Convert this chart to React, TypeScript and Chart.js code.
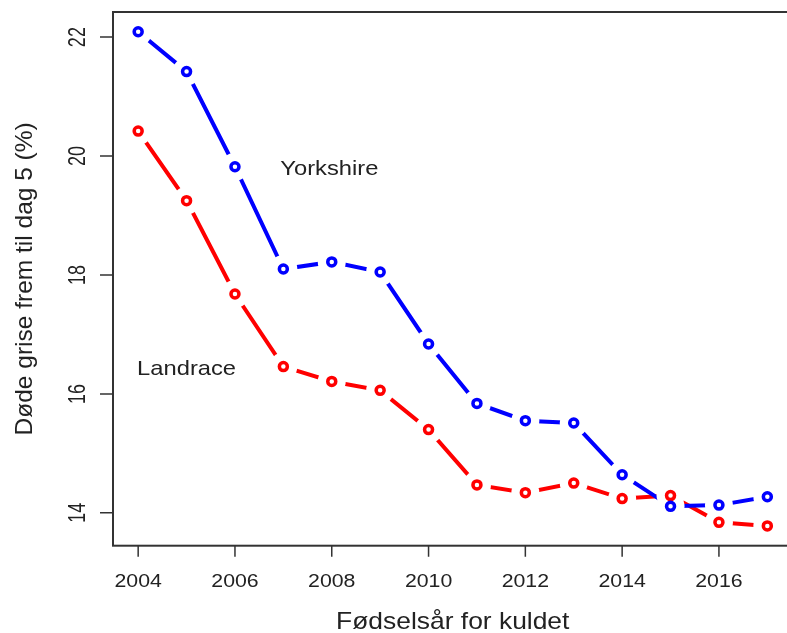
import React, { useEffect, useRef } from "react";
import { Chart, registerables } from "chart.js";

Chart.register(...registerables);

const years = [2004, 2005, 2006, 2007, 2008, 2009, 2010, 2011, 2012, 2013, 2014, 2015, 2016, 2017];
const yorkshire = [22.09, 21.42, 19.82, 18.1, 18.22, 18.05, 16.84, 15.84, 15.55, 15.51, 14.64, 14.11, 14.13, 14.27];
const landrace = [20.42, 19.25, 17.68, 16.46, 16.21, 16.06, 15.4, 14.47, 14.34, 14.5, 14.24, 14.29, 13.84, 13.78];
const xTicks = [2004, 2006, 2008, 2010, 2012, 2014, 2016];
const yTicks = [14, 16, 18, 20, 22];
const seriesLabels = ["Yorkshire", "Landrace"];
const labelX = [2007.95, 2005.0];
const labelY = [19.68, 16.31];
const xTitle = "Fødselsår for kuldet";
const yTitle = "Døde grise frem til dag 5 (%)";

const FONT = '"Liberation Sans", Arial, sans-serif';
const TEXT = "#222";
const AXIS = "#333";
const GAP = 14;

function drawText(
  ctx: CanvasRenderingContext2D,
  text: string,
  x: number,
  y: number,
  size: number,
  sx: number,
  rot: number,
  align: CanvasTextAlign,
  baseline: CanvasTextBaseline
) {
  ctx.save();
  ctx.translate(x, y);
  ctx.scale(sx, 1);
  ctx.rotate(rot);
  ctx.font = `${size}px ${FONT}`;
  ctx.fillStyle = TEXT;
  ctx.textAlign = align;
  ctx.textBaseline = baseline;
  ctx.fillText(text, 0, 0);
  ctx.restore();
}

function ext(vals: number[]) {
  const mn = Math.min(...vals);
  const mx = Math.max(...vals);
  const r = mx - mn;
  return [mn - 0.04 * r, mx + 0.04 * r];
}

const rPlotPlugin = {
  id: "rplot",
  afterDraw(chart: any) {
    const ctx: CanvasRenderingContext2D = chart.ctx;
    const { left, right, top, bottom } = chart.chartArea;
    const xs = chart.scales.x;
    const ys = chart.scales.y;

    // R type="b": blank a disc round every point, then redraw the points
    ctx.save();
    ctx.fillStyle = "rgb(255,255,255)";
    for (let d = chart.data.datasets.length - 1; d >= 0; d--) {
      const vals = chart.data.datasets[d].data;
      for (const v of vals) {
        const px = xs.getPixelForValue(v.x);
        const py = ys.getPixelForValue(v.y);
        ctx.beginPath();
        ctx.arc(px, py, GAP, 0, Math.PI * 2);
        ctx.fill();
      }
    }
    for (let d = chart.data.datasets.length - 1; d >= 0; d--) {
      const meta = chart.getDatasetMeta(d);
      for (const el of meta.data) {
        el.draw(ctx, chart.chartArea);
      }
    }
    ctx.restore();

    ctx.save();
    ctx.strokeStyle = AXIS;
    ctx.lineWidth = 2;
    ctx.strokeRect(left, top, right - left, bottom - top);
    ctx.lineWidth = 1.5;
    ctx.beginPath();
    for (const v of yTicks) {
      const py = ys.getPixelForValue(v);
      ctx.moveTo(left - 13, py);
      ctx.lineTo(left, py);
    }
    for (const v of xTicks) {
      const px = xs.getPixelForValue(v);
      ctx.moveTo(px, bottom);
      ctx.lineTo(px, bottom + 11);
    }
    ctx.stroke();
    ctx.restore();

    for (const v of xTicks) {
      drawText(ctx, String(v), xs.getPixelForValue(v), bottom + 41, 19, 1.12, 0, "center", "alphabetic");
    }
    for (const v of yTicks) {
      drawText(ctx, String(v), 85, ys.getPixelForValue(v), 18, 1.3, -Math.PI / 2, "center", "alphabetic");
    }
    drawText(ctx, xTitle, (left + right) / 2, 629, 24, 1.1, 0, "center", "alphabetic");
    drawText(ctx, yTitle, 32, (top + bottom) / 2, 24.5, 1.0, -Math.PI / 2, "center", "alphabetic");
    for (let i = 0; i < seriesLabels.length; i++) {
      drawText(
        ctx,
        seriesLabels[i],
        xs.getPixelForValue(labelX[i]),
        ys.getPixelForValue(labelY[i]),
        21,
        1.13,
        0,
        "center",
        "alphabetic"
      );
    }
  },
};

export default function App() {
  const ref = useRef<HTMLCanvasElement | null>(null);

  useEffect(() => {
    if (!ref.current) return;
    const [xMin, xMax] = ext(years);
    const [yMin, yMax] = ext([...yorkshire, ...landrace]);
    const pts = (vals: number[]) => vals.map((v, i) => ({ x: years[i], y: v }));

    const makeSeries = (label: string, vals: number[], color: string) => ({
      label,
      data: pts(vals),
      showLine: true,
      borderColor: color,
      borderWidth: 4,
      fill: false,
      tension: 0,
      pointStyle: "circle",
      pointRadius: 4,
      pointHoverRadius: 4,
      pointBorderWidth: 3.5,
      pointBorderColor: color,
      pointBackgroundColor: "#ffffff",
    });

    const chart = new Chart(ref.current, {
      type: "scatter",
      data: {
        datasets: [
          makeSeries(seriesLabels[0], yorkshire, "#0000ff"),
          makeSeries(seriesLabels[1], landrace, "#ff0000"),
        ] as any,
      },
      options: {
        animation: false,
        responsive: false,
        devicePixelRatio: 1,
        layout: { padding: { top: 12, right: 7, left: 0, bottom: 0 } },
        plugins: { legend: { display: false }, tooltip: { enabled: false } },
        events: [],
        scales: {
          x: {
            type: "linear",
            min: xMin,
            max: xMax,
            ticks: { display: false },
            grid: { display: false },
            border: { display: false },
            afterFit: (s: any) => {
              s.height = 87.3;
            },
          },
          y: {
            type: "linear",
            min: yMin,
            max: yMax,
            ticks: { display: false },
            grid: { display: false },
            border: { display: false },
            afterFit: (s: any) => {
              s.width = 113;
            },
          },
        },
      } as any,
      plugins: [rPlotPlugin],
    });
    return () => chart.destroy();
  }, []);

  return (
    <div
      style={{
        position: "fixed",
        left: 0,
        top: 0,
        width: 787,
        height: 633,
        overflow: "hidden",
        background: "#ffffff",
      }}
    >
      <canvas ref={ref} width={800} height={633} style={{ display: "block" }} />
    </div>
  );
}
